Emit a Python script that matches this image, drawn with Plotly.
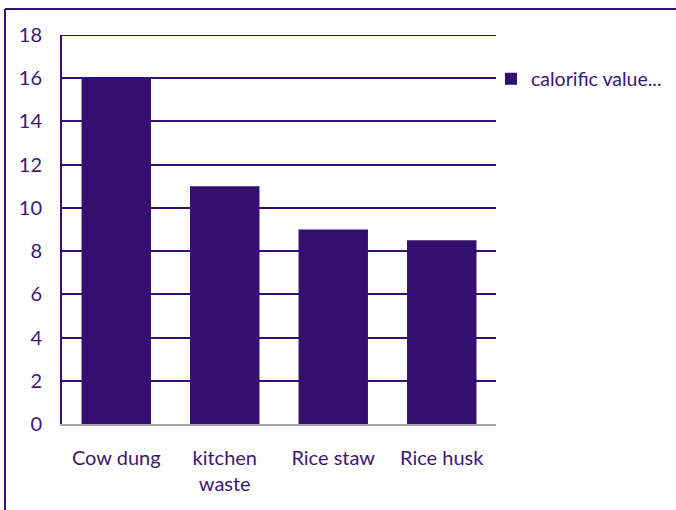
import plotly.graph_objects as go

categories = ["Cow dung", "kitchen<br>waste", "Rice staw", "Rice husk"]
values = [16, 11, 9, 8.5]
series_name = "calorific value..."
y_ticks = [0, 2, 4, 6, 8, 10, 12, 14, 16, 18]

PURPLE = "#350f6f"
TEXT = "#3a1877"

W, H = 676, 510
L, R, T, B = 62, 496, 35, 424

fig = go.Figure()
fig.add_trace(go.Bar(x=categories, y=values, name=series_name,
                     marker=dict(color=PURPLE, line=dict(width=0)), width=0.64))

font = dict(family="Lato, Open Sans, sans-serif", size=20, color=TEXT)

fig.update_layout(
    width=W, height=H,
    margin=dict(l=L, r=W - R, t=T, b=H - B, pad=0, autoexpand=False),
    paper_bgcolor="white", plot_bgcolor="white",
    font=font,
    showlegend=True,
    legend=dict(xref="container", yref="container",
                x=491 / W, y=1 - 79 / H, xanchor="left", yanchor="middle",
                font=dict(family="Lato, Open Sans, sans-serif", size=19.5, color=TEXT),
                itemwidth=30, bgcolor="rgba(0,0,0,0)"),
    xaxis=dict(showgrid=False, showline=True, linecolor="#a6a6a6", linewidth=2,
               ticks="", ticklabelstandoff=15, tickfont=font),
    yaxis=dict(range=[0, 18], tickvals=y_ticks, showgrid=True, gridcolor=PURPLE,
               gridwidth=1.5, showline=True, linecolor=PURPLE, linewidth=2,
               ticks="", ticklabelstandoff=14, zeroline=False, tickfont=font),
    bargap=0.36,
)

pw, ph = R - L, B - T
def px(x): return (x - L) / pw
def py(y): return (B - y) / ph

fig.add_shape(type="line", xref="paper", yref="paper",
              x0=px(5), y0=py(9), x1=px(W + 2), y1=py(9),
              line=dict(color=PURPLE, width=2))
fig.add_shape(type="line", xref="paper", yref="paper",
              x0=px(5), y0=py(9), x1=px(5), y1=py(H + 2),
              line=dict(color=PURPLE, width=2))
fig.add_shape(type="line", xref="paper", yref="y",
              x0=0, y0=18, x1=1, y1=18, line=dict(color=PURPLE, width=2))

fig.write_html("out.html")
